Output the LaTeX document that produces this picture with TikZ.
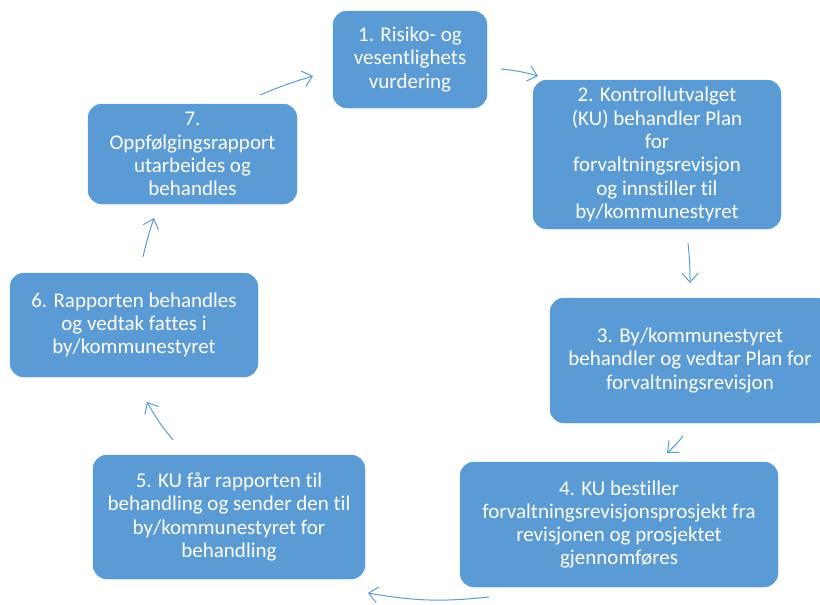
\documentclass[tikz,border=0pt]{standalone}
\usepackage{fontspec}
\setmainfont{Carlito}[Ligatures=NoCommon]
\usetikzlibrary{arrows.meta}
\definecolor{boxblue}{HTML}{5B9BD5}
\tikzset{
  stepbox/.style={rectangle, rounded corners=14pt, fill=boxblue, draw=boxblue,
    text=white, align=center, inner sep=2pt,
    font=\fontsize{21pt}{23.3pt}\selectfont},
  flow/.style={draw=boxblue, line width=1pt,
    -{Straight Barb[length=9pt,width=16pt,line width=1pt]}}
}
\begin{document}
\begin{tikzpicture}[x=1pt,y=-1pt]
\useasboundingbox (0,0) rectangle (820,605);
\begin{scope}
\clip (0,0) rectangle (820,605);
\node[stepbox, minimum width=154pt, minimum height=97pt] (b1) at (410,59.5)
  {1. Risiko- og\\vesentlighets\\vurdering};
\node[stepbox, minimum width=248pt, minimum height=149pt] (b2) at (657,154.5)
  {2. Kontrollutvalget\\(KU) behandler Plan\\for\\forvaltningsrevisjon\\og innstiller til\\by/kommunestyret};
\node[stepbox, minimum width=280pt, minimum height=125pt] (b3) at (690,360.5)
  {3. By/kommunestyret\\behandler og vedtar Plan for\\forvaltningsrevisjon};
\node[stepbox, minimum width=318pt, minimum height=125pt] (b4) at (619,524.5)
  {4. KU bestiller\\forvaltningsrevisjonsprosjekt fra\\revisjonen og prosjektet\\gjennomføres};
\node[stepbox, minimum width=272pt, minimum height=124pt] (b5) at (229,517)
  {5. KU får rapporten til\\behandling og sender den til\\by/kommunestyret for\\behandling};
\node[stepbox, minimum width=248pt, minimum height=104pt] (b6) at (134,325)
  {6. Rapporten behandles\\og vedtak fattes i\\by/kommunestyret};
\node[stepbox, minimum width=209pt, minimum height=100pt] (b7) at (192.5,154)
  {7.\\Oppfølgingsrapport\\utarbeides og\\behandles};
\end{scope}
% connector end points
\coordinate (a12s) at (501,69);  \coordinate (a12e) at (538,76);
\coordinate (a23s) at (688,243); \coordinate (a23e) at (690,283);
\coordinate (a34s) at (683,436); \coordinate (a34e) at (667,453);
\coordinate (a45s) at (489,597); \coordinate (a45e) at (368,593);
\coordinate (a56s) at (173,440); \coordinate (a56e) at (147,402);
\coordinate (a67s) at (143,257); \coordinate (a67e) at (154,218);
\coordinate (a71s) at (260,95);  \coordinate (a71e) at (313,76);
\draw[flow] (a12s) to[bend left=5] (a12e);
\draw[flow] (a23s) to[bend left=3] (a23e);
\draw[flow] (a34s) to[bend left=5] (a34e);
\draw[flow] (a45s) to[bend left=8] (a45e);
\draw[flow] (a56s) to[bend left=5] (a56e);
\draw[flow] (a67s) to[bend left=3] (a67e);
\draw[flow] (a71s) to[bend left=3] (a71e);
\end{tikzpicture}
\end{document}
